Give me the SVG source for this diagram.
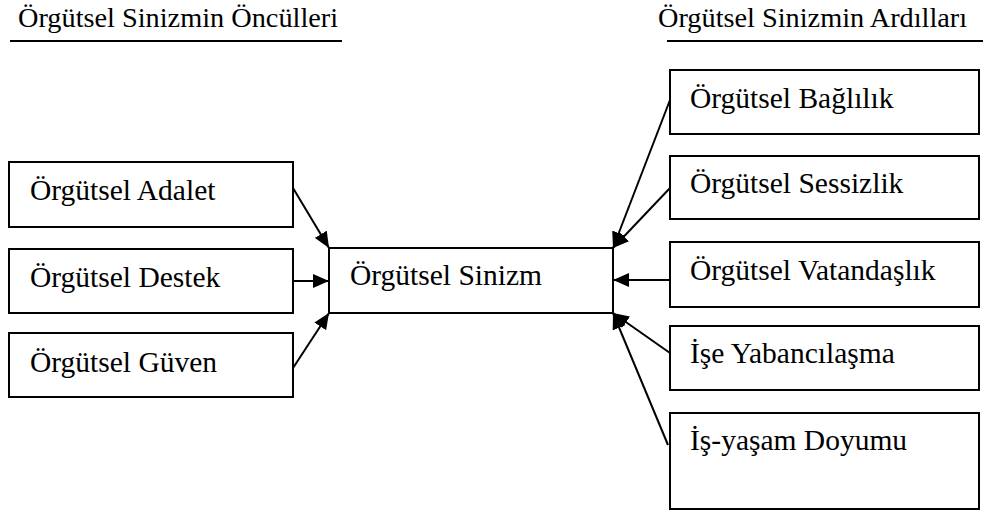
<svg xmlns="http://www.w3.org/2000/svg" width="986" height="513" viewBox="0 0 986 513">
<style>
.box{fill:#fff;stroke:#000;stroke-width:2}
.t{font-family:'Liberation Serif','Times New Roman',serif;font-size:29.5px;fill:#000}
.h{font-family:'Liberation Serif','Times New Roman',serif;font-size:28.3px;fill:#000}
.c{stroke:#000;stroke-width:2;fill:none;marker-end:url(#ah)}
.u{stroke:#000;stroke-width:2}
</style>
<defs>
<marker id="ah" markerUnits="userSpaceOnUse" markerWidth="16" markerHeight="14" viewBox="0 0 16 14" refX="16" refY="7" orient="auto">
<path d="M0,0 L16,7 L0,14 Z" fill="#000"/>
</marker>
</defs>
<g id="header-left">
<text class="h" x="18" y="27">Örgütsel Sinizmin Öncülleri</text>
<line class="u" x1="10" y1="41" x2="342" y2="41"/>
</g>
<g id="header-right">
<text class="h" x="658" y="27">Örgütsel Sinizmin Ardılları</text>
<line class="u" x1="667" y1="41" x2="983" y2="41"/>
</g>
<g id="n-adalet"><rect class="box" x="9" y="162" width="284" height="65"/><text class="t" x="30" y="200">Örgütsel Adalet</text></g>
<g id="n-destek"><rect class="box" x="9" y="249" width="284" height="64"/><text class="t" x="30" y="287">Örgütsel Destek</text></g>
<g id="n-guven"><rect class="box" x="9" y="333" width="284" height="64"/><text class="t" x="30" y="372">Örgütsel Güven</text></g>
<g id="n-sinizm"><rect class="box" x="329" y="248" width="284" height="65"/><text class="t" x="350" y="285">Örgütsel Sinizm</text></g>
<g id="n-baglilik"><rect class="box" x="670" y="70" width="309" height="64"/><text class="t" x="690" y="108">Örgütsel Bağlılık</text></g>
<g id="n-sessizlik"><rect class="box" x="670" y="156" width="309" height="63"/><text class="t" x="690" y="193">Örgütsel Sessizlik</text></g>
<g id="n-vatandaslik"><rect class="box" x="670" y="242" width="309" height="65"/><text class="t" x="690" y="280">Örgütsel Vatandaşlık</text></g>
<g id="n-yabancilasma"><rect class="box" x="670" y="326" width="309" height="64"/><text class="t" x="690" y="363">İşe Yabancılaşma</text></g>
<g id="n-doyum"><rect class="box" x="670" y="413" width="309" height="96"/><text class="t" x="690" y="450">İş-yaşam Doyumu</text></g>
<g id="connectors">
<line class="c" x1="293" y1="188" x2="329" y2="248"/>
<line class="c" x1="293" y1="281" x2="329" y2="281"/>
<line class="c" x1="293" y1="368" x2="329" y2="313"/>
<line class="c" x1="670" y1="100" x2="613" y2="248"/>
<line class="c" x1="670" y1="188" x2="613" y2="248"/>
<line class="c" x1="670" y1="280" x2="613" y2="280"/>
<line class="c" x1="670" y1="353" x2="613" y2="313"/>
<line class="c" x1="668" y1="445" x2="613" y2="313"/>
</g>
</svg>
